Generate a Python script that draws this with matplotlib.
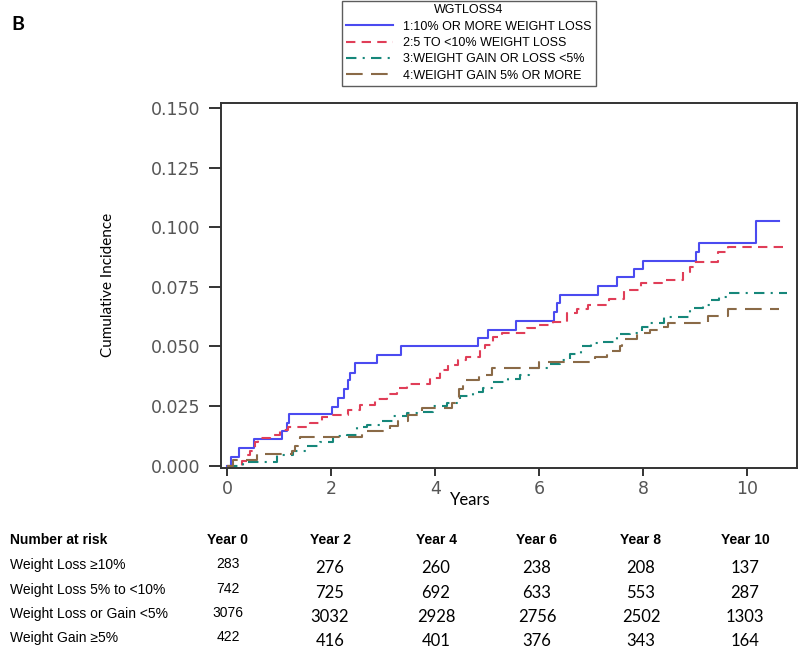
import matplotlib
matplotlib.use('Agg')
import matplotlib.pyplot as plt
import numpy as np

# step curves (years, cumulative incidence)
t_loss10 = [0, 0.08, 0.23, 0.52, 1.05, 1.16, 1.2, 2.02, 2.13, 2.25, 2.33, 2.37, 2.45,
            2.89, 3.35, 4.83, 5.02, 5.56, 6.29, 6.35, 6.4, 7.13, 7.5, 7.83, 8.0, 9.02,
            9.08, 10.17, 10.6]
ci_loss10 = [0, 0.0037, 0.0075, 0.011, 0.0147, 0.018, 0.0215, 0.0247, 0.0285, 0.032,
             0.036, 0.039, 0.043, 0.0465, 0.050, 0.0535, 0.057, 0.0607, 0.0645, 0.068,
             0.0716, 0.0754, 0.079, 0.0825, 0.086, 0.0897, 0.0934, 0.1025, 0.1025]

t_loss5 = [0, 0.29, 0.39, 0.45, 0.53, 0.6, 0.83, 1.02, 1.18, 1.6, 1.82, 2.04, 2.33, 2.56,
           2.85, 3.07, 3.27, 3.46, 3.9, 4.1, 4.25, 4.44, 4.6, 4.86, 4.96, 5.12, 5.28, 5.77,
           5.96, 6.27, 6.53, 6.72, 6.94, 7.35, 7.62, 7.96, 8.36, 8.77, 8.9, 8.98, 9.43,
           9.63, 10.7]
ci_loss5 = [0, 0.0017, 0.0046, 0.006, 0.010, 0.0117, 0.013, 0.015, 0.0163, 0.018, 0.0205,
            0.0214, 0.0234, 0.0255, 0.028, 0.030, 0.0327, 0.034, 0.0368, 0.040, 0.0423,
            0.0444, 0.0457, 0.0494, 0.0507, 0.054, 0.0557, 0.0578, 0.059, 0.0603, 0.064,
            0.0657, 0.0674, 0.070, 0.0737, 0.0766, 0.078, 0.081, 0.0833, 0.0855, 0.0896,
            0.0917, 0.0917]

t_stable = [0, 0.3, 0.96, 1.27, 1.53, 1.79, 2.04, 2.3, 2.5, 2.69, 2.94, 3.19, 3.46, 3.65,
            3.96, 4.23, 4.48, 4.73, 4.92, 5.1, 5.4, 5.63, 5.8, 6.2, 6.4, 6.6, 6.8, 7.0,
            7.17, 7.5, 7.75, 7.98, 8.13, 8.4, 8.9, 9.15, 9.3, 9.45, 9.6, 10.77]
ci_stable = [0, 0.0013, 0.0046, 0.006, 0.008, 0.010, 0.0122, 0.013, 0.016, 0.0168, 0.0185,
             0.0206, 0.022, 0.0226, 0.025, 0.0264, 0.029, 0.031, 0.0326, 0.035, 0.0364,
             0.038, 0.041, 0.0427, 0.0444, 0.047, 0.050, 0.0515, 0.052, 0.055, 0.0557,
             0.058, 0.060, 0.0625, 0.066, 0.0675, 0.0695, 0.0705, 0.0724, 0.0724]

t_gain = [0, 0.12, 0.58, 1.25, 1.31, 1.37, 1.4, 2.6, 3.13, 3.29, 3.48, 3.75, 4.33, 4.38,
          4.46, 4.54, 4.85, 5.1, 6.0, 7.08, 7.3, 7.56, 7.6, 7.88, 8.13, 8.3, 8.48, 9.25,
          9.63, 10.6]
ci_gain = [0, 0.0025, 0.005, 0.006, 0.008, 0.010, 0.012, 0.0143, 0.0165, 0.0185, 0.0213,
           0.0243, 0.0264, 0.0285, 0.032, 0.036, 0.038, 0.041, 0.0433, 0.0457, 0.048,
           0.050, 0.053, 0.0557, 0.057, 0.058, 0.060, 0.0628, 0.0657, 0.0657]

legend_labels = ['1:10% OR MORE WEIGHT LOSS', '2:5 TO <10% WEIGHT LOSS',
                 '3:WEIGHT GAIN OR LOSS <5%', '4:WEIGHT GAIN 5% OR MORE']

# number at risk table
risk_years = ['Year 0', 'Year 2', 'Year 4', 'Year 6', 'Year 8', 'Year 10']
risk_groups = ['Weight Loss \u226510%', 'Weight Loss 5% to <10%',
               'Weight Loss or Gain <5%', 'Weight Gain \u22655%']
risk_loss10 = [283, 276, 260, 238, 208, 137]
risk_loss5 = [742, 725, 692, 633, 553, 287]
risk_stable = [3076, 3032, 2928, 2756, 2502, 1303]
risk_gain = [422, 416, 401, 376, 343, 164]

narrow = ['Liberation Sans Narrow', 'Liberation Sans', 'DejaVu Sans']

fig = plt.figure(figsize=(8, 6.49), dpi=100)
ax = fig.add_axes([0.276, 0.279, 0.72, 0.562])

l1, = ax.step(t_loss10, ci_loss10, where='post', color='#4b4bf0', lw=1.5)
l2, = ax.step(t_loss5, ci_loss5, where='post', color='#e03e58', lw=1.5, dashes=[4.5, 3])
l3, = ax.step(t_stable, ci_stable, where='post', color='#16877a', lw=1.5,
              dashes=[5, 3, 1, 3])
l4, = ax.step(t_gain, ci_gain, where='post', color='#8a6a47', lw=1.5, dashes=[8, 4])

ax.set_xlim(-0.12, 10.95)
ax.set_ylim(-0.001, 0.152)
ax.set_xticks([0, 2, 4, 6, 8, 10])
ax.set_yticks(np.arange(0, 0.151, 0.025))
ax.set_yticklabels(['%.3f' % y for y in np.arange(0, 0.151, 0.025)])
for s in ax.spines.values():
    s.set_linewidth(1.4)
    s.set_color('#333333')
ax.tick_params(axis='both', direction='out', color='#333333', width=1.4,
               labelcolor='#555555', labelsize=12.5)
ax.tick_params(axis='y', length=9, pad=6)
ax.tick_params(axis='x', length=6, pad=3)

fig.text(108 / 800, 1 - 285 / 649, 'Cumulative Incidence', rotation=90, ha='center',
         va='center', fontsize=11, family='Lato')
fig.text(470 / 800, 1 - 500 / 649, 'Years', ha='center', va='center', fontsize=12,
         family='Lato')
fig.text(18 / 800, 1 - 24 / 649, 'B', ha='center', va='center', fontsize=14,
         family='Lato', fontweight='bold')

leg = fig.legend([l1, l2, l3, l4], legend_labels, title='WGTLOSS4',
                 loc='upper left', bbox_to_anchor=(342 / 800, 1 - 0.5 / 649),
                 frameon=True, fancybox=False, edgecolor='#333333',
                 title_fontsize=9, handlelength=3.8, handletextpad=0.8,
                 labelspacing=0.35, borderpad=0.3, borderaxespad=0,
                 prop={'family': narrow, 'size': 9})
leg.get_title().set_family(narrow)
leg.get_frame().set_linewidth(1.0)

# table of numbers at risk
col_x = [228, 330, 436, 537, 641, 745]
head_y = 540
row_y = [565, 590, 614, 638]
fig.text(10 / 800, 1 - head_y / 649, 'Number at risk', ha='left', va='center',
         fontsize=10, family=narrow, fontweight='bold')
for x, lab in zip(col_x, risk_years):
    fig.text(x / 800, 1 - head_y / 649, lab, ha='center', va='center', fontsize=10,
             family=narrow, fontweight='bold')
rows = [risk_loss10, risk_loss5, risk_stable, risk_gain]
for y, name, vals in zip(row_y, risk_groups, rows):
    fig.text(10 / 800, 1 - y / 649, name, ha='left', va='center', fontsize=10,
             family=narrow)
    for j, (x, v) in enumerate(zip(col_x, vals)):
        if j == 0:
            fig.text(x / 800, 1 - (y - 1) / 649, str(v), ha='center', va='center',
                     fontsize=10, family=narrow)
        else:
            fig.text(x / 800, 1 - (y + 3) / 649, str(v), ha='center', va='center',
                     fontsize=12, family='Lato')

fig.savefig('out.png', dpi=100)
